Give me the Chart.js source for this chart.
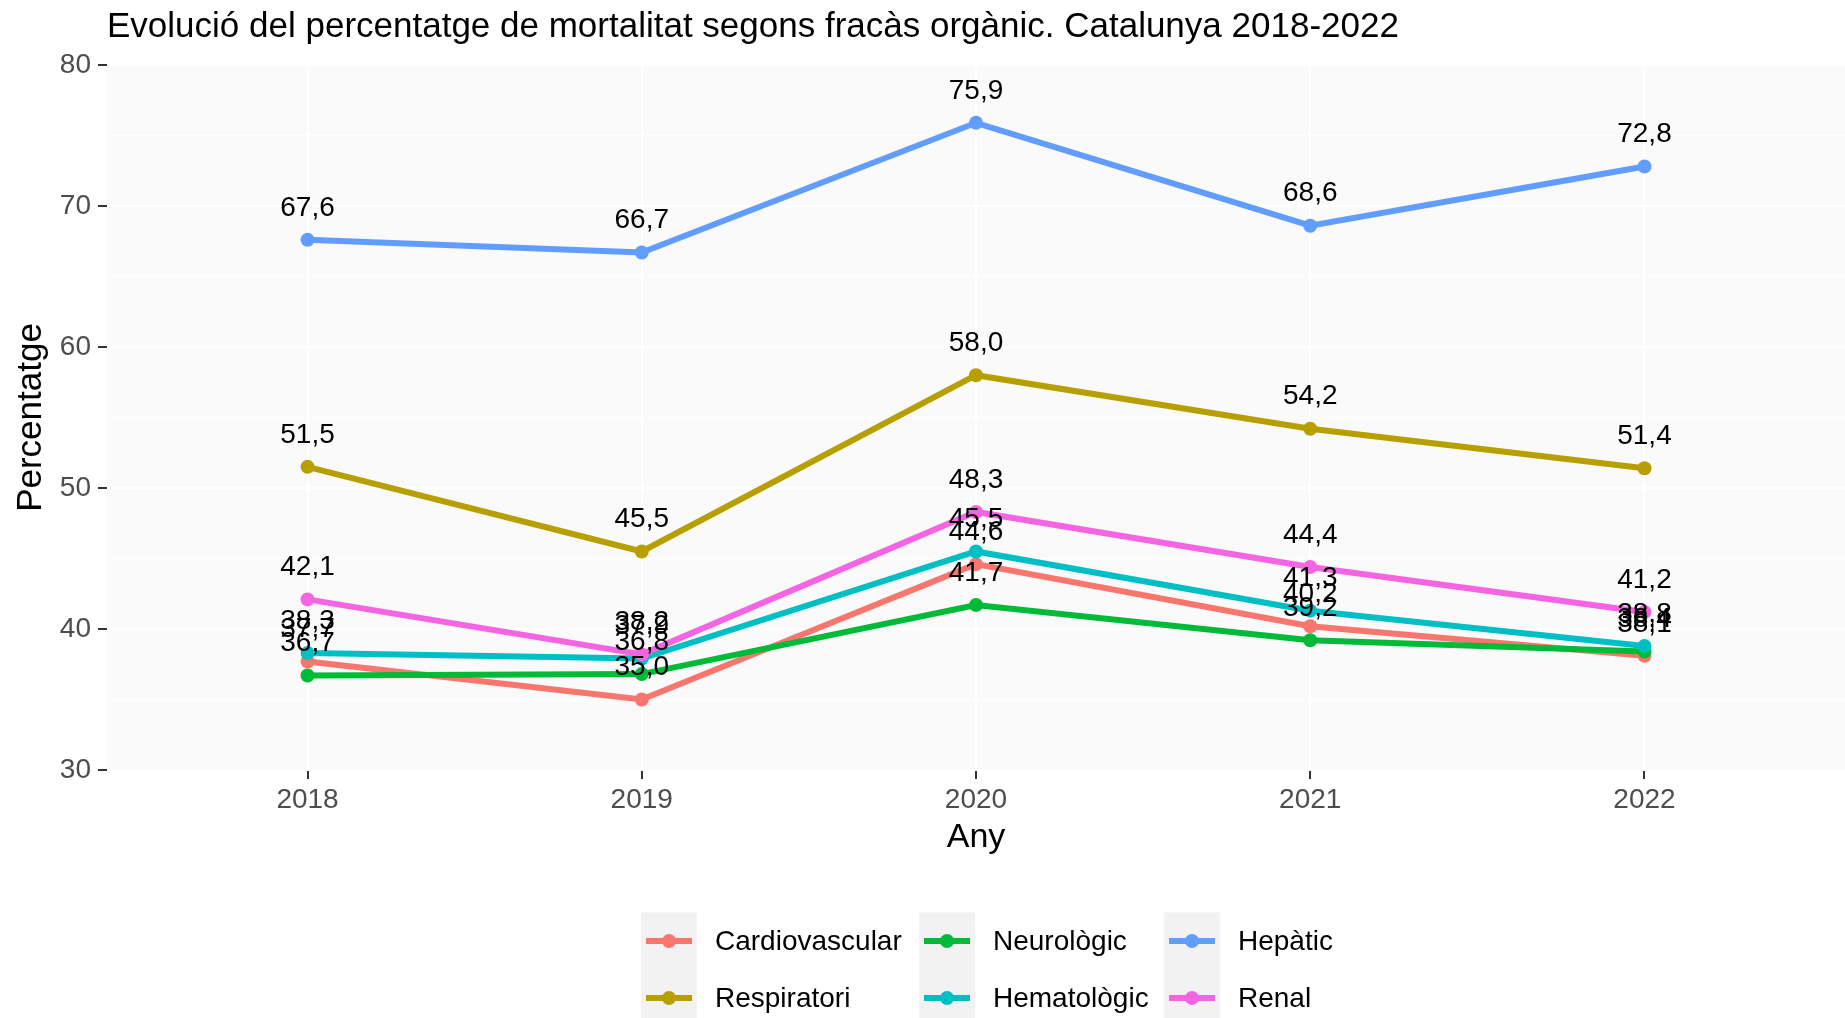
<!DOCTYPE html>
<html>
<head>
<meta charset="utf-8">
<script src="https://cdn.jsdelivr.net/npm/chart.js@4.4.1/dist/chart.umd.min.js"></script>
<style>
  html, body { margin: 0; padding: 0; background: #fff; overflow: hidden; }
  canvas { display: block; }
</style>
</head>
<body>
<canvas id="myChart" width="1845" height="1018"></canvas>
<script>
const years = [2018, 2019, 2020, 2021, 2022];
const yTicks = [30, 35, 40, 45, 50, 55, 60, 65, 70, 75, 80];

const cardiovascular = [37.7, 35.0, 44.6, 40.2, 38.1];
const respiratori    = [51.5, 45.5, 58.0, 54.2, 51.4];
const neurologic     = [36.7, 36.8, 41.7, 39.2, 38.4];
const hematologic    = [38.3, 37.9, 45.5, 41.3, 38.8];
const hepatic        = [67.6, 66.7, 75.9, 68.6, 72.8];
const renal          = [42.1, 38.2, 48.3, 44.4, 41.2];

const names  = ['Cardiovascular', 'Respiratori', 'Neurològic', 'Hematològic', 'Hepàtic', 'Renal'];
const series = [cardiovascular, respiratori, neurologic, hematologic, hepatic, renal];
const colors = ['#F8766D', '#B79F00', '#00BA38', '#00BFC4', '#619CFF', '#F564E3'];

const FONT = '"Liberation Sans", Arial, sans-serif';

// panel background like ggplot
const panelBg = {
  id: 'panelBg',
  beforeDraw(chart) {
    const { ctx, chartArea: a } = chart;
    ctx.save();
    ctx.fillStyle = '#FAFAFA';
    ctx.fillRect(a.left, a.top, a.right - a.left, a.bottom - a.top);
    ctx.restore();
  }
};

// value labels above each point
const pointLabels = {
  id: 'pointLabels',
  afterDatasetsDraw(chart) {
    const ctx = chart.ctx;
    ctx.save();
    ctx.font = '28px ' + FONT;
    ctx.fillStyle = '#000';
    ctx.textAlign = 'center';
    ctx.textBaseline = 'middle';
    chart.data.datasets.forEach((ds, i) => {
      const meta = chart.getDatasetMeta(i);
      meta.data.forEach((pt, j) => {
        const txt = ds.data[j].y.toFixed(1).replace('.', ',');
        ctx.fillText(txt, pt.x, pt.y - 32);
      });
    });
    ctx.restore();
  }
};

// title and bottom legend (ggplot style)
const extras = {
  id: 'extras',
  afterDraw(chart) {
    const ctx = chart.ctx;
    ctx.save();
    ctx.fillStyle = '#000';
    ctx.font = '35px ' + FONT;
    ctx.textAlign = 'left';
    ctx.textBaseline = 'middle';
    ctx.fillText('Evolució del percentatge de mortalitat segons fracàs orgànic. Catalunya 2018-2022', 107, 27);

    const keyX = [641, 919, 1164];
    const rowY = [941, 998];
    const keyW = 56, keyH = 57;
    ctx.font = '28px ' + FONT;
    chart.data.datasets.forEach((ds, i) => {
      const col = Math.floor(i / 2), row = i % 2;
      const x = keyX[col], y = rowY[row];
      ctx.fillStyle = '#F2F2F2';
      ctx.fillRect(x, y - keyH / 2, keyW, keyH);
      ctx.strokeStyle = ds.borderColor;
      ctx.lineWidth = 6;
      ctx.beginPath();
      ctx.moveTo(x + 5, y);
      ctx.lineTo(x + keyW - 5, y);
      ctx.stroke();
      ctx.fillStyle = ds.borderColor;
      ctx.beginPath();
      ctx.arc(x + keyW / 2, y, 7, 0, Math.PI * 2);
      ctx.fill();
      ctx.fillStyle = '#000';
      ctx.fillText(ds.label, x + keyW + 18, y + 1);
    });
    ctx.restore();
  }
};

const ctx = document.getElementById('myChart').getContext('2d');
const myChart = new Chart(ctx, {
  type: 'line',
  data: {
    datasets: names.map((n, i) => ({
      label: n,
      data: years.map((yr, j) => ({ x: yr, y: series[i][j] })),
      borderColor: colors[i],
      backgroundColor: colors[i],
      borderWidth: 6,
      pointRadius: 7,
      pointBorderWidth: 0,
      pointHoverRadius: 7,
      tension: 0,
      order: names.length - i
    }))
  },
  options: {
    responsive: false,
    animation: false,
    layout: { autoPadding: false, padding: { top: 65, left: 0, right: 0, bottom: 158 } },
    plugins: {
      legend: { display: false },
      tooltip: { enabled: false }
    },
    scales: {
      x: {
        type: 'linear',
        min: 2017.4,
        max: 2022.6,
        afterBuildTicks: s => { s.ticks = years.map(v => ({ value: v })); },
        afterFit: s => { s.height = 90; s.paddingLeft = 0; s.paddingRight = 0; },
        border: { display: false },
        grid: { color: '#FFFFFF', lineWidth: 2, tickColor: '#333333', tickLength: 9 },
        ticks: {
          padding: 4,
          color: '#4D4D4D',
          font: { family: FONT, size: 28 },
          callback: v => String(v)
        },
        title: { display: true, text: 'Any', color: '#000', font: { family: FONT, size: 34 }, padding: { top: 0, bottom: 2 } }
      },
      y: {
        min: 30,
        max: 80,
        afterBuildTicks: s => { s.ticks = yTicks.map(v => ({ value: v })); },
        afterFit: s => { s.width = 107; },
        border: { display: false },
        grid: {
          color: '#FFFFFF',
          lineWidth: c => (c.tick && c.tick.value % 10 === 0 ? 2 : 1),
          tickColor: c => (c.tick && c.tick.value % 10 === 0 ? '#333333' : 'rgba(0,0,0,0)'),
          tickLength: 9
        },
        ticks: {
          padding: 7,
          color: '#4D4D4D',
          font: { family: FONT, size: 28 },
          callback: v => (v % 10 === 0 ? String(v) : '')
        },
        title: { display: true, text: 'Percentatge', color: '#000', font: { family: FONT, size: 35 }, padding: { top: 10, bottom: 0 } }
      }
    }
  },
  plugins: [panelBg, pointLabels, extras]
});
</script>
</body>
</html>
